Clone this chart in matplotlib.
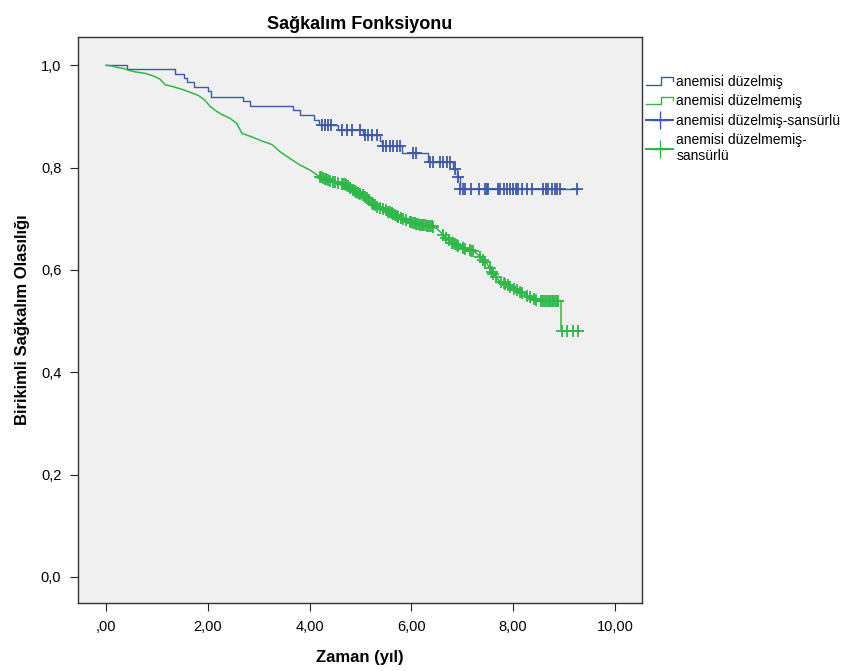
import numpy as np
import matplotlib
matplotlib.use("Agg")
import matplotlib.pyplot as plt
from matplotlib.lines import Line2D
from matplotlib.legend_handler import HandlerBase

plt.rcParams['font.family'] = ['Liberation Sans', 'DejaVu Sans']

# blue group: anemisi düzelmiş (event times and survival after each step)
blue_t = [0, 0.42, 1.36, 1.54, 1.60, 1.72, 2.01, 2.06, 2.70, 2.82, 3.67, 3.81,
          4.09, 4.18, 4.55, 5.05, 5.38, 5.42, 5.82, 6.33, 6.82, 6.90, 6.95]
blue_s = [1.0, 0.993, 0.983, 0.975, 0.967, 0.957, 0.949, 0.938, 0.930, 0.920, 0.912, 0.902,
          0.893, 0.883, 0.873, 0.863, 0.852, 0.842, 0.828, 0.811, 0.797, 0.782, 0.758]
blue_end = 9.28
blue_cens = [4.24, 4.30, 4.37, 4.43, 4.63, 4.73, 4.83, 4.99, 5.09, 5.15, 5.22, 5.32,
             5.45, 5.51, 5.58, 5.64, 5.71, 5.78, 6.04, 6.10, 6.37, 6.43, 6.56, 6.63,
             6.69, 6.76, 6.86, 6.92,
             6.96, 7.01, 7.05, 7.18, 7.33, 7.45, 7.48, 7.51, 7.71, 7.75, 7.81, 7.87,
             7.94, 8.00, 8.05, 8.10, 8.17, 8.28, 8.36, 8.59, 8.64, 8.69, 8.76, 8.82,
             8.87, 8.92, 9.25]

# green group: anemisi düzelmemiş (many tiny steps)
green_t = [0, 0.14, 0.21, 0.37, 0.44, 0.57, 0.77, 0.93, 1.06, 1.16, 1.32, 1.52, 1.68,
           1.81, 1.94, 2.04, 2.14, 2.27, 2.44, 2.57, 2.67, 2.86, 3.06, 3.26, 3.42, 3.61,
           3.81, 4.01, 4.20, 4.40, 4.60, 4.73, 4.86, 5.06, 5.19, 5.32, 5.51, 5.71, 5.97,
           6.17, 6.37, 6.50, 6.63, 6.76, 6.95, 7.09, 7.22, 7.35, 7.48, 7.58, 7.74, 7.94,
           8.13, 8.33, 8.49, 8.94, 8.94, 9.31]
green_s = [1.0, 0.998, 0.996, 0.993, 0.990, 0.987, 0.984, 0.979, 0.973, 0.962, 0.958, 0.952,
           0.946, 0.941, 0.932, 0.920, 0.912, 0.904, 0.896, 0.886, 0.867, 0.860, 0.852, 0.845,
           0.831, 0.818, 0.805, 0.795, 0.782, 0.774, 0.769, 0.766, 0.756, 0.746, 0.733, 0.723,
           0.716, 0.705, 0.694, 0.688, 0.686, 0.681, 0.668, 0.655, 0.645, 0.639, 0.637, 0.626,
           0.613, 0.596, 0.577, 0.567, 0.557, 0.547, 0.540, 0.540, 0.481, 0.481]
green_cens = [4.20, 4.23, 4.27, 4.30, 4.33, 4.37, 4.40, 4.47, 4.50, 4.56, 4.63, 4.66,
              4.69, 4.72, 4.76, 4.80, 4.85, 4.89, 4.92, 4.96, 5.00, 5.05, 5.09, 5.12,
              5.16, 5.22, 5.25, 5.28, 5.32, 5.38, 5.45, 5.50, 5.55, 5.58, 5.61, 5.64,
              5.68, 5.71, 5.74, 5.79, 5.84, 5.90, 5.97, 6.00, 6.04, 6.07, 6.10, 6.13,
              6.17, 6.20, 6.23, 6.27, 6.30, 6.33, 6.36, 6.40, 6.43, 6.63, 6.68, 6.73,
              6.79, 6.82, 6.86, 6.89, 6.92, 7.02, 7.05, 7.15, 7.18, 7.22, 7.35, 7.41,
              7.45, 7.54, 7.58, 7.61, 7.67, 7.77, 7.81, 7.84, 7.89, 7.93, 8.02, 8.07,
              8.13, 8.18, 8.28, 8.33, 8.40, 8.45, 8.55, 8.59, 8.63, 8.66, 8.70, 8.73,
              8.76, 8.79, 8.82, 8.86, 8.89, 8.95, 9.06, 9.17, 9.28]

x_ticks = [0, 2, 4, 6, 8, 10]
x_labels = [",00", "2,00", "4,00", "6,00", "8,00", "10,00"]
y_ticks = [0.0, 0.2, 0.4, 0.6, 0.8, 1.0]
y_labels = ["0,0", "0,2", "0,4", "0,6", "0,8", "1,0"]

BLUE = '#3e58ac'
GREEN = '#2eb848'


def surv_at(times, vals, t):
    idx = np.searchsorted(times, t, side='right') - 1
    return np.asarray(vals)[idx]


class StepHandler(HandlerBase):
    def create_artists(self, legend, orig_handle, xdescent, ydescent,
                       width, height, fontsize, trans):
        x0, w, h = -xdescent, width, height
        y0 = -ydescent + 0.1 * h
        y1 = -ydescent + 0.9 * h
        xs = [x0, x0 + 0.55 * w, x0 + 0.55 * w, x0 + w, x0 + w]
        ys = [y0, y0, y1, y1, y1 - 0.35 * h]
        ln = Line2D(xs, ys, color=orig_handle.get_color(), lw=1.0, transform=trans)
        return [ln]


fig = plt.figure(figsize=(8.53, 6.71), dpi=100)
ax = fig.add_axes([0.0914, 0.1013, 0.6612, 0.8435])
ax.set_facecolor('#f0f0f0')

ax.step(blue_t + [blue_end], blue_s + [blue_s[-1]], where='post', color=BLUE, lw=1.0)
ax.plot(green_t, green_s, color=GREEN, lw=1.1)
ax.plot(blue_cens, surv_at(blue_t, blue_s, blue_cens), ls='none', marker='+',
        ms=9, mew=1.3, color=BLUE)
green_cens_y = [surv_at(green_t, green_s, c) if c >= 8.94 else np.interp(c, green_t[:-2], green_s[:-2])
                for c in green_cens]
ax.plot(green_cens, green_cens_y, ls='none', marker='+', ms=9, mew=1.3, color=GREEN)

ax.set_xlim(-0.55, 10.53)
ax.set_ylim(-0.051, 1.055)
ax.set_xticks(x_ticks)
ax.set_xticklabels(x_labels)
ax.set_yticks(y_ticks)
ax.set_yticklabels(y_labels)
ax.tick_params(labelsize=10.5, length=6, color='#222222', pad=6)
for sp in ax.spines.values():
    sp.set_color('#333333')
    sp.set_linewidth(1.0)

ax.set_title("Sağkalım Fonksiyonu", fontsize=13, fontweight='bold', pad=6)
ax.set_xlabel("Zaman (yıl)", fontsize=12, fontweight='bold', labelpad=12)
ax.set_ylabel("Birikimli Sağkalım Olasılığı", fontsize=12, fontweight='bold', labelpad=8)

h1 = Line2D([], [], color=BLUE)
h2 = Line2D([], [], color=GREEN)
h3 = Line2D([], [], color=BLUE, marker='+', ms=13, mew=1.0)
h4 = Line2D([], [], color=GREEN, marker='+', ms=13, mew=1.0)
fig.legend([h1, h2, h3, h4],
           ["anemisi düzelmiş", "anemisi düzelmemiş", "anemisi düzelmiş-sansürlü",
            "anemisi düzelmemiş-\nsansürlü"],
           handler_map={h1: StepHandler(), h2: StepHandler()},
           loc='upper left', bbox_to_anchor=(0.757, 0.888), frameon=False,
           fontsize=10, handlelength=2.0, handletextpad=0.2, labelspacing=0.38,
           borderaxespad=0, borderpad=0)

fig.savefig("out.png", dpi=100)
